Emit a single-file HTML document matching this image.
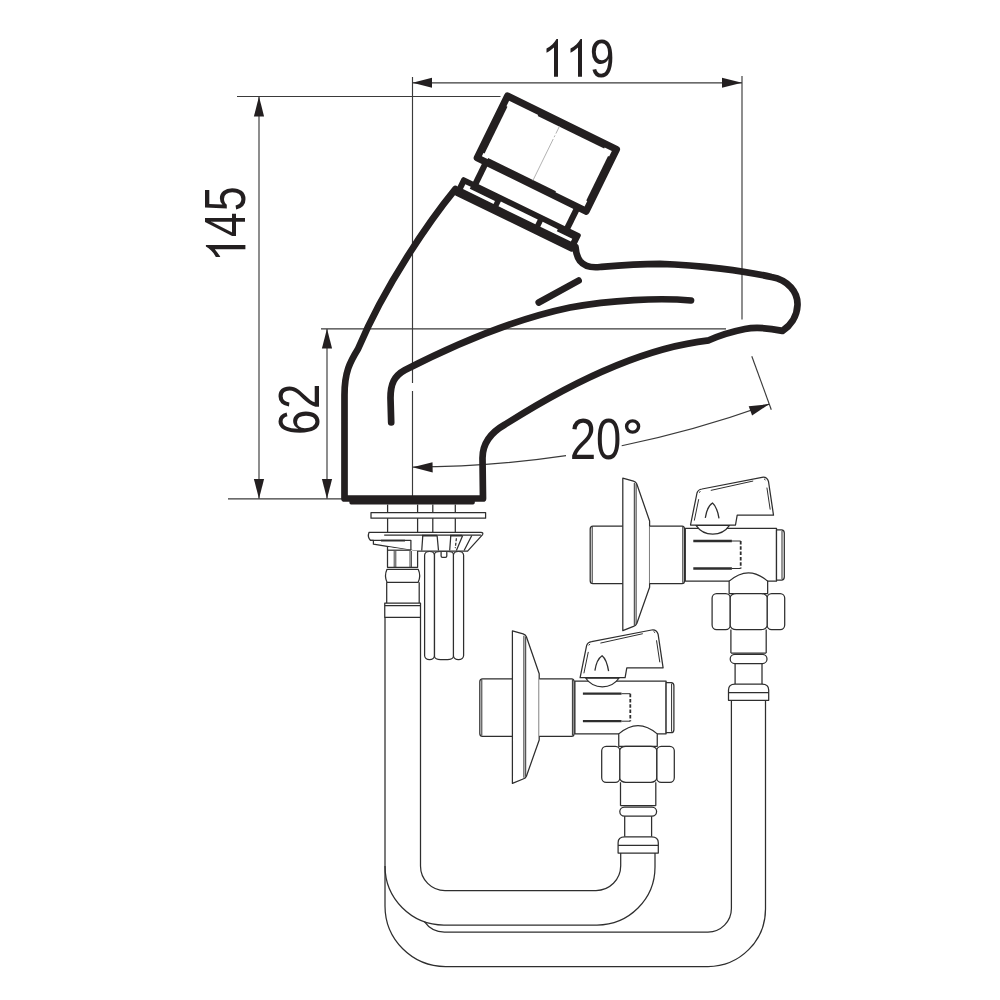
<!DOCTYPE html>
<html><head><meta charset="utf-8">
<style>
html,body{margin:0;padding:0;background:#fff;width:1000px;height:1000px;overflow:hidden}
svg{display:block}
text{font-family:"Liberation Sans",sans-serif;fill:#231f20}
</style></head>
<body>
<svg width="1000" height="1000" viewBox="0 0 1000 1000">
<defs>
  <path id="one" fill="#231f20" d="M0,0 H-4 V-29.3 C-6.5,-27.2 -9,-25.2 -11.5,-24 V-28.3 C-7.5,-30.3 -3.5,-34 -1.5,-37.8 H0 Z"/>
</defs>
<rect width="1000" height="1000" fill="#fff"/>

<!-- ===== dimension lines (thin) ===== -->
<g stroke="#3a3a3a" stroke-width="1.15" fill="none">
  <line x1="412.5" y1="77" x2="412.5" y2="499"/>
  <line x1="742" y1="76" x2="742" y2="319.4"/>
  <line x1="412.5" y1="82.8" x2="742" y2="82.8"/>
  <line x1="237" y1="96.5" x2="500.5" y2="96.5"/>
  <line x1="259" y1="96.5" x2="259" y2="498.8"/>
  <line x1="228" y1="498.8" x2="345" y2="498.8"/>
  <line x1="321" y1="328.8" x2="726" y2="328.8"/>
  <line x1="327" y1="329" x2="327" y2="498.8"/>
  <path d="M412.5,467 A1043,1043 0 0 0 566,455.64"/>
  <path d="M621.7,445.8 A1043,1043 0 0 0 769.2,404.1"/>
  <line x1="751.8" y1="356.2" x2="771.3" y2="409.7"/>
</g>
<g fill="#231f20">
  <path d="M412.5,82.8 L432,77.8 L432,87.8 Z"/>
  <path d="M742,82.8 L722,77.8 L722,87.8 Z"/>
  <path d="M259,96.6 L253.9,116.4 L264.1,116.4 Z"/>
  <path d="M259,498.8 L253.9,479 L264.1,479 Z"/>
  <path d="M327,328.8 L321.9,348.6 L332.1,348.6 Z"/>
  <path d="M327,498.8 L321.9,479 L332.1,479 Z"/>
  <path d="M412.5,467.3 L432.5,462.2 L432.7,472.4 Z"/>
  <path d="M769.2,404.1 L752.1,415.6 L748.7,406.2 Z"/>
</g>

<rect x="411" y="383" width="3" height="8" fill="#fff"/>
<!-- texts -->
<use href="#one" transform="translate(558 76.8)"/>
<use href="#one" transform="translate(582 76.8)"/>
<text transform="translate(589.7 77) scale(0.816 1)" font-size="54.4">9</text>

<g transform="translate(245.4 0) rotate(-90)">
  <use href="#one" transform="translate(-245 0) scale(1.045)"/>
  <text transform="translate(-237 0) scale(0.77 1)" font-size="57.3">4</text>
  <text transform="translate(-211.3 0) scale(0.782 1)" font-size="57.3">5</text>
</g>
<g transform="translate(318.5 0) rotate(-90)">
  <text transform="translate(-434.9 0) scale(0.804 1)" font-size="56.9">6</text>
  <text transform="translate(-409.1 0) scale(0.8 1)" font-size="56.9">2</text>
</g>
<text transform="translate(569.8 458.8) scale(0.83 1)" font-size="57.3">2</text>
<text transform="translate(595.9 458.6) scale(0.795 1)" font-size="57.1">0</text>
<ellipse cx="632.6" cy="426.5" rx="6" ry="5.6" fill="none" stroke="#231f20" stroke-width="3.4"/>

<!-- ===== faucet body (thick) ===== -->
<g stroke="#231f20" stroke-width="6.7" fill="none" stroke-linejoin="round" stroke-linecap="round">
  <!-- outer body -->
  <path d="M455.5,189 C430,220 385,285 358,349 C350,362 344.5,372 344.5,395 L344.5,498.5 L483,498.5 L482.5,458 C482.5,444 490,433 505,424.5 C560,389.5 636,348.5 708.8,340.3 C716,337 730,332 745,329 C755,327 766,327.5 782.5,330.9 C790,326 797,317 797.5,305 C798,292 788,280 771.5,277 C745,271 700,265 660,263.8 C635,264 612,266 600,267 C591,268 584,266 580,261 C577,257 576,253 575.5,247"/>
  <!-- inner spout line -->
  <path d="M391.2,422.5 L390.5,398 C390.5,384 394,376 405,370 C450,347 510,320 570,307.5 C610,300 660,297.5 691,300.5"/>
  <!-- short line -->
  <path d="M538.75,302.5 L578.6,280.6"/>
</g>
<!-- base step -->
<path d="M349.4,499 H474.8 V502.8 Q474.8,504.4 473,504.4 H351 Q349.4,504.4 349.4,502.8 Z" fill="#231f20"/>

<!-- cap / neck / collar in rotated frame -->
<g transform="matrix(0.898 0.440 -0.440 0.898 505.9 91.3)">
  <rect x="3.5" y="3.5" width="121.4" height="68.9" fill="none" stroke="#231f20" stroke-width="7" stroke-linejoin="round"/>
  <g fill="#231f20"><rect x="39.4" y="6" width="74" height="2.2"/><rect x="120.2" y="13.2" width="2.2" height="49.5"/><rect x="13.4" y="67.7" width="75.5" height="2.2"/><rect x="6" y="13.2" width="2.2" height="52"/></g>
  <line x1="63.5" y1="8" x2="63.5" y2="68" stroke="#a8a8a8" stroke-width="0.8" stroke-dasharray="8 2 2 2 40 0"/>
  <line x1="13.4" y1="73" x2="13.4" y2="96.5" stroke="#231f20" stroke-width="6.2"/>
  <line x1="115.4" y1="73" x2="115.4" y2="96.5" stroke="#231f20" stroke-width="6.2"/>
</g>
<g transform="matrix(0.899 0.438 -0.438 0.899 462.5 176.3)">
  <rect x="0" y="0" width="132.5" height="20.3" rx="2.5" fill="#231f20"/>
  <g fill="#fff">
    <path d="M6,5.8 H12 V8 H40 V11.2 H6 Z"/>
    <rect x="45.5" y="5.8" width="41" height="5.4"/>
    <path d="M92,5.8 H108.8 V8 H126 V11.2 H92 Z"/>
  </g>
</g>

<!-- ===== hoses & fittings (thin) ===== -->
<g stroke="#2e2e2e" stroke-width="1.25" fill="none" stroke-linejoin="round">
  <!-- hose B (behind) -->
  <path d="M385,866 L385,906 A60.5,60.5 0 0 0 445.5,966.5 L708,966.5 A57.5,57.5 0 0 0 765.5,909 L765.5,700.3"/>
  <path d="M424.4,921.6 A24.5,24.5 0 0 0 444.5,932 L708,932 A23.5,23.5 0 0 0 731.4,908.5 L731.4,700.3"/>
  <!-- hose A -->
  <path d="M385,617.4 L385,866 A59,59 0 0 0 444,925 L597,925 A58,58 0 0 0 655,867 L655,852.4"/>
  <path d="M420.5,617.4 L420.5,866 A24.5,24.5 0 0 0 445,890.5 L596,890.5 A24.7,24.7 0 0 0 620.7,865.8 L620.7,852.4"/>

  <!-- long hex nut -->
  <rect x="424.6" y="551.3" width="9.9" height="108.3" rx="4.9" ry="4" fill="#fff"/>
  <rect x="453.4" y="551.3" width="10.2" height="108.3" rx="5" ry="4" fill="#fff"/>
  <rect x="434.5" y="551.3" width="18.9" height="108.3" rx="6" ry="3" fill="#fff"/>
  <path d="M441.1,551.5 V556 Q441.1,557.4 442.5,557.4 H445.4 Q446.8,557.4 446.8,556 V551.5"/>
  <!-- stud / washer / clamp -->
  <path d="M387.6,504.4 V532.7 M417.6,504.4 V532.7 M432.8,504.4 V532.7 M455.3,504.4 V532.7"/>
  <rect x="371" y="512.6" width="114.6" height="5.6" fill="#fff"/>
  <path d="M369,532.3 H481 Q483.5,532.5 482.6,534.6 L467.6,551.2 H416 L373.4,544.2 V540.3 H370.4 Q367.2,537 369,532.6 Z" fill="#fff"/>
  <path d="M384.2,535 L480.9,535"/>
  <path d="M370.4,540.3 H410.9 V550"/>
  <path d="M381,540.6 H405" stroke-width="1.8"/>
  <path d="M422.8,535.5 L421.75,550.5 M437.1,535.5 L438.5,550.5 M450.8,535.5 L449.7,550.5 M462.7,535.5 L456.4,550.5 M471.8,535.5 L464.1,550.5"/>
  <path d="M456.4,538.3 L455.3,548.1" stroke-dasharray="3 1.5"/>
  <path d="M422,535.6 H437 M450,535.6 H462" stroke-width="1.8"/>

  <!-- left pipe -->
  <path d="M387.5,547 V567.3 H417.6 V551" fill="#fff"/>
  <path d="M387.5,550.2 H410.9"/>
  <path d="M394.2,551 V567 M395.8,551 V567 M410,551 V567 M411.4,551 V567" stroke-width="0.9"/>
  <path d="M387,569.3 H418.2 Q421.2,575.8 418.2,582.3 H387 Q384,575.8 387,569.3 Z" fill="#fff"/>
  <path d="M386.7,582.3 V603.1 M419.2,582.3 V603.1"/>
  <rect x="384.75" y="603.1" width="35.75" height="14.3" fill="#fff"/>
  <path d="M384.75,605.7 H420.5"/>

</g>

<!-- ===== valves ===== -->
<defs>
<g id="valve" stroke="#2e2e2e" stroke-width="1.25" fill="#fff" stroke-linejoin="round">
  <!-- left stub -->
  <path d="M622.9,526.1 L593,526.1 Q590.2,526.1 590.2,529 L590.2,580.7 Q590.2,583.6 593,583.6 L622.9,583.6"/>
  <path d="M592.2,527 V582.8" fill="none" stroke-width="1"/>
  <!-- escutcheon -->
  <path d="M622.8,478.2 L633.5,481.2 Q636,482 636.8,484 L649.6,521 L649.6,587.3 L636.8,623.5 Q636,625.6 633.5,626.3 L622.8,630.7 Z"/>
  <path d="M634.3,483 V625 M636.1,484 V624" fill="none" stroke-width="1"/>
  <!-- collar -->
  <path d="M649.6,526.1 H682 Q684.5,526.1 684.5,529 V580.7 Q684.5,583.6 682,583.6 H649.6"/>
  <path d="M682.8,527 V582.8" fill="none" stroke-width="1"/>
  <!-- body -->
  <rect x="685.3" y="528.3" width="91.2" height="52.85"/>
  <path d="M776.5,529.8 L781.5,529.8 Q784.3,529.8 784.3,533 L784.3,577 Q784.3,580 781.5,580 L776.5,580 Z"/>
  <path d="M782,531 V579" fill="none" stroke-width="1"/>
  <!-- slot -->
  <path d="M693.3,541 H731.9 M693.3,568.5 H731.9" stroke-width="2.3" fill="none"/>
  <path d="M731.9,541 H740.7 M731.9,568.5 H740.7" fill="none" stroke-width="1"/>
  <path d="M740.7,541 V568.5" stroke-dasharray="3.5 1.8" stroke-width="1.8" fill="none"/>
  <!-- outlet -->
  <path d="M729.15,581.15 Q748.4,564.5 767.65,581.15 L767.65,593.6 L729.15,593.6 Z"/>
  <!-- hex nut -->
  <rect x="712.1" y="593.6" width="18.15" height="36" rx="4.5"/>
  <rect x="767.1" y="593.6" width="17.6" height="36" rx="4.5"/>
  <rect x="730.25" y="593.6" width="36.85" height="36" rx="6" ry="4"/>
  <!-- tube -->
  <path d="M730.9,629.6 V653 M766.2,629.6 V653 M730.9,653 H766.2" fill="none"/>
  <rect x="730.2" y="654.3" width="36.8" height="9.2" rx="4.6"/>
  <path d="M735.1,663.5 V684.1 M762,663.5 V684.1" fill="none"/>
  <path d="M728.5,700.3 L728.5,690 Q728.5,684.1 735,684.1 L762,684.1 Q768.7,684.1 768.7,690 L768.7,700.3 Z"/>
  <line x1="728.5" y1="692.6" x2="768.7" y2="692.6"/>
  <!-- handle base lens -->
  <path d="M696,525.3 A20.3,20.3 0 0 0 729.5,525.3 Z"/>
  <!-- handle -->
  <path d="M690.5,525 L697,493 Q698,489.5 702,489 L762,477.3 Q767,476.5 768.5,481.5 L773.5,515.1 L737.2,515.1 L735.5,525 Z"/>
  <path d="M710.8,490.4 L753.2,481 M766.9,487.6 L770.2,509.6 M698.7,499.2 L694.3,520.6" fill="none" stroke-width="1"/>
  <path d="M699,492.5 L700.5,491.5 M764,478.8 L765.5,480" fill="none" stroke-width="1"/>
  <path d="M705.3,517.9 Q707,506.5 712.5,503 Q717,506.5 719,518.4" fill="none" stroke-width="1.3"/>
</g>
</defs>
<use href="#valve"/>
<use href="#valve" transform="translate(-110.4 152.7)"/>
</svg>
</body></html>
